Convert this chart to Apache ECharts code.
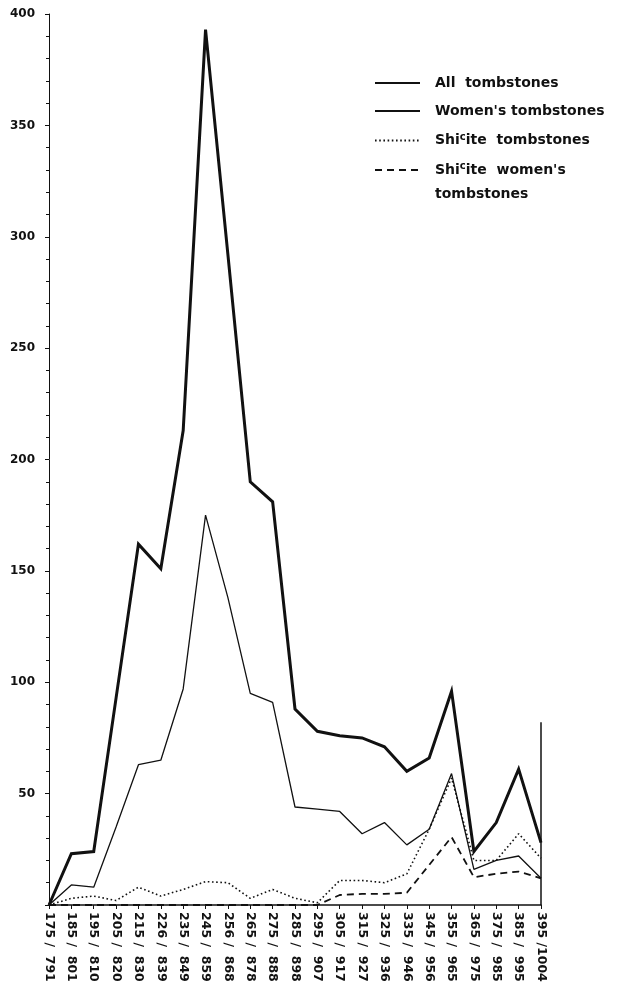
<!DOCTYPE html>
<html>
<head>
<meta charset="utf-8">
<script src="https://cdn.jsdelivr.net/npm/echarts@6/dist/echarts.min.js"></script>
<style>
html,body{margin:0;padding:0;background:#fff;}
#chart{width:618px;height:990px;}
</style>
</head>
<body>
<div id="chart"></div>
<script>
const categories = ["175 /  791","185 /  801","195 /  810","205 /  820","215 /  830","226 /  839","235 /  849","245 /  859","256 /  868","265 /  878","275 /  888","285 /  898","295 /  907","305 /  917","315 /  927","325 /  936","335 /  946","345 /  956","355 /  965","365 /  975","375 /  985","385 /  995","395 /1004"];
const allTombstones = [0, 23, 24, 93, 162, 151, 213, 393, 292, 190, 181, 88, 78, 76, 75, 71, 60, 66, 96, 24, 37, 61, 28];
const womenTombstones = [0, 9, 8, 35, 63, 65, 97, 175, 138, 95, 91, 44, 43, 42, 32, 37, 27, 34, 59, 16, 20, 22, 12];
const shiiteTombstones = [0, 3, 4, 2, 8, 4, 7, 10.5, 10, 3, 7, 3, 1, 11, 11, 10, 14, 34, 57, 20, 20, 32, 21];
const shiiteWomenTombstones = [0, 0, 0, 0, 0, 0, 0, 0, 0, 0, 0, 0, 0, 4.5, 5, 5, 5.5, 18, 30.5, 12.5, 14, 15, 12];
const yTickValues = [0, 50, 100, 150, 200, 250, 300, 350, 400];
const rightEdgeLineTop = 82;

const seriesNames = ["All tombstones", "Women's tombstones", "Shi\u1D9Cite tombstones", "Shi\u1D9Cite women's tombstones"];
const legendLabels = {};
legendLabels[seriesNames[0]] = "All  tombstones";
legendLabels[seriesNames[1]] = "Women's tombstones";
legendLabels[seriesNames[2]] = "Shi{sup|c}ite  tombstones";
legendLabels[seriesNames[3]] = "Shi{sup|c}ite  women's";
const legendSecondLine = "tombstones";

const ink = '#111';
const font = 'DejaVu Sans';

const chart = echarts.init(document.getElementById('chart'), null, {renderer: 'canvas'});
chart.setOption({
  animation: false,
  backgroundColor: '#fff',
  grid: {left: 49, right: 77, top: 14, bottom: 85, containLabel: false},
  legend: {
    orient: 'vertical',
    left: 369,
    top: 71,
    itemWidth: 45,
    itemHeight: 14,
    itemGap: 14,
    selectedMode: false,
    itemStyle: {opacity: 0, borderWidth: 0},
    data: seriesNames,
    formatter: function (n) { return legendLabels[n]; },
    textStyle: {
      fontFamily: font, fontSize: 14, fontWeight: 'bold', color: ink, lineHeight: 14, padding: [0, 0, 0, 10],
      rich: {
        sup: {fontFamily: font, fontSize: 10, fontWeight: 'bold', color: ink, padding: [0, 0, 7, 0]}
      }
    }
  },
  graphic: [{
    type: 'text', left: 435, top: 187, silent: true,
    style: {text: legendSecondLine, fontFamily: font, fontSize: 14, fontWeight: 'bold', fill: ink}
  }],
  xAxis: {
    type: 'category',
    data: categories,
    boundaryGap: false,
    axisLine: {lineStyle: {color: ink, width: 1.5}},
    axisTick: {show: true, length: 4, lineStyle: {color: ink, width: 1}},
    axisLabel: {
      rotate: -90, margin: 7, interval: 0,
      fontFamily: font, fontSize: 12.5, fontWeight: 'bold', color: ink
    },
    splitLine: {show: false}
  },
  yAxis: {
    type: 'value',
    min: yTickValues[0],
    max: yTickValues[yTickValues.length - 1],
    interval: yTickValues[1] - yTickValues[0],
    axisLine: {show: true, lineStyle: {color: ink, width: 1}},
    axisTick: {show: true, length: 4, lineStyle: {color: ink, width: 1}},
    minorTick: {show: true, splitNumber: 5, length: 3, lineStyle: {color: ink, width: 1}},
    axisLabel: {
      margin: 14, fontFamily: font, fontSize: 12, fontWeight: 'bold', color: ink,
      formatter: function (v) { return v === 0 ? '' : String(v); }
    },
    splitLine: {show: false}
  },
  series: [
    {
      name: seriesNames[0], type: 'line', data: allTombstones, symbol: 'none', z: 5,
      lineStyle: {color: ink, width: 3, join: 'miter'}, itemStyle: {color: ink},
      markLine: {
        silent: true, symbol: 'none', label: {show: false},
        lineStyle: {color: ink, width: 1.5, type: 'solid'},
        data: [[{coord: [categories[categories.length - 1], 0]}, {coord: [categories[categories.length - 1], rightEdgeLineTop]}]]
      }
    },
    {
      name: seriesNames[1], type: 'line', data: womenTombstones, symbol: 'none', z: 4,
      lineStyle: {color: ink, width: 1.3}, itemStyle: {color: ink}
    },
    {
      name: seriesNames[2], type: 'line', data: shiiteTombstones, symbol: 'none', z: 3,
      lineStyle: {color: ink, width: 1.6, type: [1.6, 2.6]}, itemStyle: {color: ink}
    },
    {
      name: seriesNames[3], type: 'line', data: shiiteWomenTombstones, symbol: 'none', z: 3,
      lineStyle: {color: ink, width: 1.8, type: [7, 5]}, itemStyle: {color: ink}
    }
  ]
});
</script>
</body>
</html>
